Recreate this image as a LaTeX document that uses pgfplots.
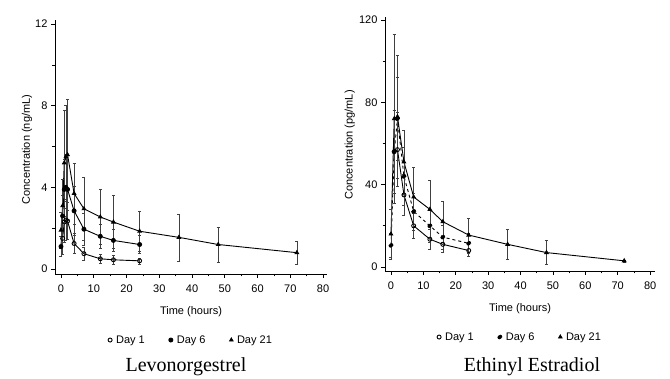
\documentclass[border=0pt]{standalone}
\usepackage{pgfplots}
\pgfplotsset{compat=1.18}
\usepackage{pgfplotstable}
\usepackage{fontspec}
\setmainfont{Liberation Serif}
\setsansfont{Liberation Sans}

% Levonorgestrel (ng/mL)
\pgfplotstableread{
t v e
0.5 1.5 0.8
1 2.3 1.0
1.5 2.4 1.0
2 2.35 0.9
4 1.25 0.5
7 0.75 0.3
12 0.5 0.2
16 0.45 0.2
24 0.4 0.15
}\lngA
\pgfplotstableread{
t v e
0 1.1 0.5
0.5 2.6 1.0
1 3.9 1.5
1.5 4.0 1.6
2 3.9 1.5
4 2.85 1.2
7 1.95 0.8
12 1.6 0.6
16 1.4 0.55
24 1.2 0.45
}\lngB
\pgfplotstableread{
t v e
0 1.9 0.9
0.5 3.1 1.3
1 5.2 2.6
1.5 5.5 2.5
2 5.6 2.7
4 3.7 1.5
7 2.95 1.55
12 2.55 1.35
16 2.3 1.3
24 1.85 1.0
36 1.55 1.15
48 1.2 0.85
72 0.8 0.55
}\lngC
% Ethinyl Estradiol (pg/mL)
\pgfplotstableread{
t v e
1 56 20
2 57 18
4 35 10
7 20 6
12 13.5 5
16 11 4
24 8 3
}\eeA
\pgfplotstableread{
t v e
0 10.5 6
1 56 20
2 72 20
4 44 14
7 27 9
12 20 8
16 14.5 6
24 11.5 5
}\eeB
\pgfplotstableread{
t v e
0 16 12
1 72 41
2 73 30
4 51 15.5
7 34 14.6
12 28 14
16 22 10
24 15.5 8.4
36 11 7.3
48 7 5.8
72 3 0.5
}\eeC

\pgfplotsset{
  eb/.style={error bars/.cd, y dir=both, y explicit,
    error bar style={line width=0.5pt, black!75},
    error mark options={rotate=90, mark size=1.5pt, black!75, line width=0.5pt}},
  pk/.style={
    scale only axis,
    axis x line*=bottom, axis y line*=left,
    axis line style={-, line width=0.9pt},
    tick align=outside, major tick length=4pt, minor tick length=2.5pt,
    every tick/.style={black, line width=0.7pt},
    xtick={0,10,...,80}, minor x tick num=1, minor y tick num=1,
    font=\sffamily\fontsize{11}{13}\selectfont,
    tick label style={font=\sffamily\fontsize{11}{13}\selectfont},
    xticklabel style={yshift=-3pt},
    /pgf/number format/assume math mode=true,
    xlabel={Time (hours)},
    xlabel style={at={(rel axis cs:0.5,-0.15)}, anchor=center},
    legend style={draw=none, fill=none, legend columns=3,
      /tikz/every odd column/.append style={column sep=2pt},
      /tikz/every even column/.append style={column sep=22pt},
      font=\sffamily\fontsize{11}{13}\selectfont,
      at={(0.5,-0.26)}, anchor=center},
    legend image code/.code={\draw[##1] plot[only marks] coordinates {(0.1cm,0cm)};},
    every axis plot/.append style={black, line width=0.9pt, mark size=2pt},
  }
}

\begin{document}
\begin{tikzpicture}
\useasboundingbox (0pt,0pt) rectangle (670pt,379pt);
\begin{axis}[pk,
  at={(55pt,105pt)}, anchor=south west,
  width=272pt, height=254pt,
  xmin=-1.83, xmax=81.2, ymin=-0.245, ymax=12.2,
  ytick={0,4,8,12},
  ylabel={Concentration (ng/mL)},
  ylabel style={at={(rel axis cs:-0.103,0.49)}, anchor=center},
]
\addplot[mark=o, eb] table[x=t, y=v, y error=e] {\lngA};
\addlegendentry{Day 1}
\addplot[mark=*, eb] table[x=t, y=v, y error=e] {\lngB};
\addlegendentry{Day 6}
\addplot[mark=triangle*, eb] table[x=t, y=v, y error=e] {\lngC};
\addlegendentry{Day 21}
\end{axis}
\begin{axis}[pk,
  at={(385pt,108pt)}, anchor=south west,
  width=270pt, height=254pt,
  xmin=-1.85, xmax=81.5, ymin=-1.94, ymax=121.4,
  ytick={0,40,80,120},
  ylabel={Concentration (pg/mL)},
  ylabel style={at={(rel axis cs:-0.13,0.496)}, anchor=center},
]
\addplot[mark=o, eb] table[x=t, y=v, y error=e] {\eeA};
\addlegendentry{Day 1}
\addplot[mark=*, dashed, eb] table[x=t, y=v, y error=e] {\eeB};
\addlegendentry{Day 6}
\addplot[mark=triangle*, eb] table[x=t, y=v, y error=e] {\eeC};
\addlegendentry{Day 21}
\end{axis}
\node[font=\rmfamily\fontsize{20}{24}\selectfont, anchor=base] at (186pt,7pt) {Levonorgestrel};
\node[font=\rmfamily\fontsize{20}{24}\selectfont, anchor=base] at (532pt,7pt) {Ethinyl Estradiol};
\end{tikzpicture}
\end{document}
